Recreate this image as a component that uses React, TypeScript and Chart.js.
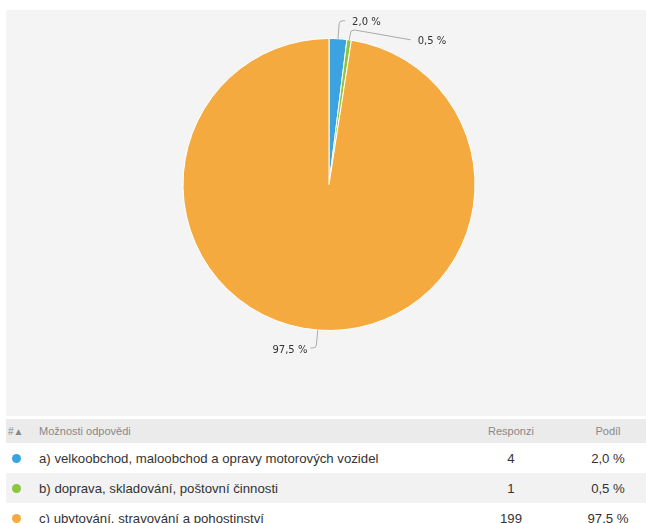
import React, { useEffect, useRef } from "react";
import { Chart, registerables } from "chart.js";

Chart.register(...registerables);

const categories = [
  "a) velkoobchod, maloobchod a opravy motorových vozidel",
  "b) doprava, skladování, poštovní činnosti",
  "c) ubytování, stravování a pohostinství",
];
const responses = [4, 1, 199];
const shares = ["2,0 %", "0,5 %", "97,5 %"];
const colors = ["#3ba3e0", "#8cc63f", "#f5aa40"];

const leaderPlugin = {
  id: "leaderLabels",
  afterDatasetsDraw(chart: any) {
    const ctx = chart.ctx;
    const meta = chart.getDatasetMeta(0);
    ctx.save();
    ctx.font = "10px 'DejaVu Sans'";
    ctx.fillStyle = "#333";
    ctx.strokeStyle = "#aaa";
    ctx.lineWidth = 1;
    ctx.textBaseline = "middle";
    let prevRight: { y: number; right: number } | null = null;
    meta.data.forEach((arc: any, i: number) => {
      const { x, y, startAngle, endAngle, outerRadius } = arc.getProps(
        ["x", "y", "startAngle", "endAngle", "outerRadius"],
        true
      );
      const mid = (startAngle + endAngle) / 2;
      const c = Math.cos(mid);
      const s = Math.sin(mid);
      const p0x = x + outerRadius * c;
      const p0y = y + outerRadius * s;
      let p1x = x + (outerRadius + 18) * c;
      let p1y = y + (outerRadius + 18) * s;
      const side = c >= 0 ? 1 : -1;
      const text = shares[i];
      const tw = ctx.measureText(text).width;
      let ty = p1y;
      let p2x = p1x + side * 6;
      if (side > 0 && prevRight && Math.abs(ty - prevRight.y) < 14) {
        p1x = x + (outerRadius + 10) * c;
        p1y = y + (outerRadius + 10) * s;
        ty = prevRight.y + 19;
        p2x = prevRight.right + 30;
      }
      ctx.beginPath();
      ctx.moveTo(p0x, p0y);
      const dirY = p1y < p0y ? 1 : -1;
      ctx.lineTo(p1x, p1y + dirY * 3);
      ctx.quadraticCurveTo(p1x, p1y, p1x + side * 4, p1y);
      ctx.lineTo(p2x, ty);
      ctx.stroke();
      const tx = p2x + (side > 0 ? 7 : -3);
      ctx.textAlign = side > 0 ? "left" : "right";
      ctx.fillText(text, tx, ty + 2);
      if (side > 0) prevRight = { y: ty, right: tx + tw };
    });
    ctx.restore();
  },
};

function PieChart() {
  const ref = useRef<HTMLCanvasElement>(null);
  useEffect(() => {
    if (!ref.current) return;
    const chart = new Chart(ref.current, {
      type: "pie",
      data: {
        labels: categories,
        datasets: [
          {
            data: responses,
            backgroundColor: colors,
            borderColor: "#ffffff",
            borderWidth: 1,
          },
        ],
      },
      options: {
        animation: false,
        responsive: true,
        maintainAspectRatio: false,
        layout: { padding: { top: 28, bottom: 85, left: 6, right: 0 } },
        plugins: {
          legend: { display: false },
          tooltip: { enabled: false },
        },
      },
      plugins: [leaderPlugin],
    });
    return () => chart.destroy();
  }, []);
  return <canvas ref={ref} />;
}

export default function App() {
  const font = "'Liberation Sans', Arial, sans-serif";
  const th = {
    fontWeight: "normal" as const,
    fontSize: 11,
    color: "#888",
    padding: 0,
  };
  const td = { fontSize: 13.2, color: "#333", padding: 0 };
  return (
    <div
      style={{
        position: "fixed",
        left: 0,
        top: 0,
        width: 646,
        height: 523,
        background: "#fff",
        fontFamily: font,
        overflow: "hidden",
      }}
    >
      <div
        style={{
          position: "absolute",
          left: 6,
          top: 10,
          width: 640,
          height: 406,
          background: "#f4f4f4",
        }}
      >
        <PieChart />
      </div>
      <table
        style={{
          position: "absolute",
          left: 6,
          top: 419,
          width: 640,
          borderCollapse: "collapse",
          fontFamily: font,
          tableLayout: "fixed",
        }}
      >
        <thead>
          <tr style={{ background: "#ebebeb", height: 24 }}>
            <th style={{ ...th, width: 26, textAlign: "left", paddingLeft: 2, fontSize: 10 }}>
              #▲
            </th>
            <th style={{ ...th, textAlign: "left", paddingLeft: 5 }}>Možnosti odpovědi</th>
            <th style={{ ...th, width: 118, textAlign: "center" }}>Responzi</th>
            <th style={{ ...th, width: 76, textAlign: "center" }}>Podíl</th>
          </tr>
        </thead>
        <tbody>
          {categories.map((cat, i) => (
            <tr
              key={cat}
              style={{ background: i % 2 === 1 ? "#f2f2f2" : "#fff", height: 30 }}
            >
              <td style={{ padding: "0 0 0 6px" }}>
                <span
                  style={{
                    display: "inline-block",
                    width: 9,
                    height: 9,
                    borderRadius: "50%",
                    background: colors[i],
                    verticalAlign: "middle",
                  }}
                />
              </td>
              <td style={{ ...td, paddingLeft: 5, whiteSpace: "nowrap" }}>{cat}</td>
              <td style={{ ...td, textAlign: "center" }}>{responses[i]}</td>
              <td style={{ ...td, textAlign: "center" }}>{shares[i]}</td>
            </tr>
          ))}
        </tbody>
      </table>
    </div>
  );
}
